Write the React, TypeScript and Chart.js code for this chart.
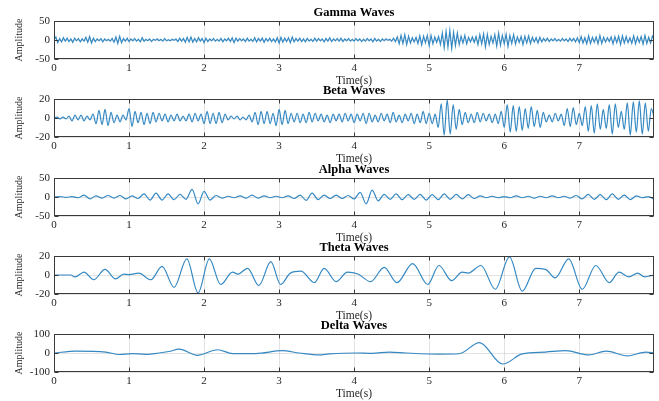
import React, { useEffect, useRef } from 'react';
import { Chart, registerables } from 'chart.js';

Chart.register(...registerables);

// ---------- data ----------
const X_MAX = 7.996;
const X_TICKS = [0, 1, 2, 3, 4, 5, 6, 7];

const TITLES = ['Gamma Waves', 'Beta Waves', 'Alpha Waves', 'Theta Waves', 'Delta Waves'];
const GAMMA_Y_TICKS = [-50, 0, 50];
const BETA_Y_TICKS = [-20, 0, 20];
const ALPHA_Y_TICKS = [-50, 0, 50];
const THETA_Y_TICKS = [-20, 0, 20];
const DELTA_Y_TICKS = [-100, 0, 100];

// Gamma: sampled every 0.025 s
const GAMMA_STEP = 0.025;
const gammaValues = [
  0, 8, -7, 4, -5, 6, -3, 5, -4, 3, -6, 5, -2, 4, -5, 3, -3, 7, -6, 9, -8, 5, -4, 3, -2, 4, -5, 3, -2, 2, -3, 4, -6, 8, -9, 10, -7, 4, -3, 5,
  -4, 3, -2, 4, -3, 2, -5, 6, -3, 2, -2, 3, -4, 2, -1, 3, -2, 2, -3, 4, -2, 1, -2, 2, -1, 3, -4, 5, -3, 4, -6, 7, -5, 8, -6, 4, -5, 6, -3, 4,
  -7, 5, -4, 3, -2, 4, -3, 2, -3, 4, -5, 3, -2, 5, -4, 6, -7, 5, -3, 4, -2, 3, -4, 5, -3, 2, -4, 6, -5, 4, -3, 5, -6, 4, -3, 5, -4, 3, -5, 6,
  -8, 7, -6, 5, -4, 6, -7, 8, -5, 4, -3, 5, -4, 3, -5, 4, -3, 2, -4, 5, -3, 4, -2, 3, -5, 4, -3, 6, -4, 3, -2, 4, -3, 5, -4, 3, -2, 4, -3, 2,
  -3, 4, -2, 3, -4, 2, -3, 4, -2, 3, -5, 4, -3, 2, -4, 3, -2, 3, -1, 2, -3, 5, -4, 8, -10, 12, -9, 14, -12, 10, -8, 6, -5, 7, -9, 11, -13, 10, -7, 12,
  -15, 12, -10, 8, -6, 9, -12, 18, -20, 22, -18, 25, -22, 20, -15, 18, -12, 10, -8, 12, -10, 7, -5, 8, -6, 9, -12, 14, -10, 16, -18, 15, -12, 10, -8, 14, -16, 18, -14, 12,
  -10, 15, -17, 12, -9, 14, -11, 8, -6, 9, -12, 10, -8, 11, -9, 7, -5, 6, -8, 7, -5, 4, -3, 5, -4, 3, -2, 4, -3, 2, -3, 4, -2, 3, -4, 5, -3, 4, -5, 6,
  -7, 9, -8, 6, -10, 11, -9, 7, -6, 8, -10, 12, -9, 7, -5, 6, -4, 8, -10, 9, -7, 10, -12, 11, -8, 9, -7, 6, -9, 11, -10, 8, -6, 9, -11, 12, -9, 7, -8, 10, 0,
];

// Beta: peaks / troughs every 0.04 s
const BETA_STEP = 0.04;
const betaValues = [
  0, 1, -1, 1, -1, 2, -3, 3, -2, 3, -3, 2, -2, 4, -6, 8, -7, 9, -8, 6, -5, 3, -4, 3, -2,
  10, -9, 7, -5, 6, -7, 5, -6, 6, -4, 5, -3, 4, -4, 3, -3, 4, -3, 2, -3, 4, -4, 5, -3, 4,
  -6, 7, -6, 5, -6, 6, -5, 4, -2, 2, -1, 2, -2, 1, -2, 3, -4, 6, -7, 7, -6, 7, -6, 5, -8,
  9, -7, 8, -6, 5, -4, 5, -5, 4, -5, 6, -4, 5, -3, 4, -4, 3, -5, 4, -3, 4, -4, 5, -3, 4,
  -5, 4, -3, 5, -6, 5, -4, 3, -4, 5, -3, 4, -5, 6, -4, 3, -5, 4, -3, 5, -6, 4, -5, 7, -6,
  5, -6, 4, -10, 15, -18, 19, -17, 14, -12, 9, -7, 6, -5, 4, -5, 6, -4, 5, -3, 4, -5, 4, -6, 7,
  -10, 14, -15, 13, -14, 12, -13, 10, -11, 12, -9, 8, -10, 6, -4, 3, -4, 5, -3, 4, -8, 10, -9, 11, -7,
  5, -8, 12, -14, 13, -16, 15, -12, 9, -11, 14, -17, 15, -10, 7, -12, 16, -18, 17, -15, 18, -17, 16, -14, 10, 0,
];

// Alpha: peaks / troughs every 0.08 s
const ALPHA_STEP = 0.08;
const alphaValues = [
  0, 1, -1, 1, -2, 5, -5, 3, -3, 4, -3, 4, -5, 3, -4, 8, -8, 10, -8, 8, -7, 7, -6, 20, -18,
  15, -8, 4, -3, 2, -2, 3, -3, 5, -3, 3, -2, 2, -2, 3, -4, 5, -9, 10, -7, 5, -4, 5, -4, 4,
  -5, 12, -18, 18, -10, 7, -6, 8, -7, 6, -6, 7, -8, 6, -7, 8, -6, 7, -5, 6, -4, 3, -2, 2, -2,
  1, -2, 3, -2, 2, -3, 2, -2, 3, -2, 2, -3, 4, -5, 7, -6, 6, -7, 8, -6, 5, -7, 3, -2, 1, -6,
];

// Theta: time (s) and amplitude of turning points
const thetaTimes = [
  0, 0.22, 0.28, 0.4, 0.53, 0.68, 0.82, 0.93, 1.0, 1.13, 1.29, 1.44, 1.6, 1.77, 1.92, 2.07, 2.22, 2.38, 2.45, 2.58,
  2.73, 2.89, 3.02, 3.15, 3.29, 3.47, 3.6, 3.76, 3.91, 4.05, 4.22, 4.4, 4.57, 4.78, 4.98, 5.13, 5.3, 5.44, 5.52, 5.69,
  5.88, 6.07, 6.24, 6.42, 6.55, 6.68, 6.86, 7.04, 7.22, 7.4, 7.53, 7.66, 7.78, 7.87, 8.0,
];
const thetaValues = [
  0, 0, -2, 3, -5, 6, -4, 1, 0.5, 2, -5, 9, -13, 17, -19, 17, -10, 3, 1, 7,
  -11, 14, -10, 2, 4, -8, 7, -7, 3, 1, -7, 8, -8, 12, -10, 10, -6, 3, 2, 10,
  -15, 19, -17, 7, 6, -3, 17, -15, 10, -8, 3, -2, 2, -2, 0,
];

// Delta: time (s) and amplitude of turning points
const deltaTimes = [
  0, 0.29, 0.69, 0.87, 1.04, 1.22, 1.4, 1.53, 1.67, 1.91, 2.18, 2.38, 2.69, 3.04, 3.27, 3.53, 3.67,
  4.02, 4.24, 4.47, 4.69, 5.13, 5.4, 5.67, 5.98, 6.24, 6.55, 6.82, 7.13, 7.36, 7.64, 7.89, 8.0,
];
const deltaValues = [
  0, 10, 5, -8, -3, -7, 0, 8, 20, -12, 17, -3, -3, 12, 0, -10, -5,
  0, -2, 5, 0, -6, -4, 55, -58, -5, 5, 12, -10, 10, -15, 5, 0,
];

// ---------- style ----------
const FONT = "'Liberation Serif', 'Times New Roman', serif";
const LINE_COLOR = '#3589c3';
const GRID_COLOR = 'rgba(0,0,0,0.11)';
const AXIS_COLOR = '#3a3a3a';
const TEXT_COLOR = '#262626';

const CANVAS_W = 659;
const CANVAS_H = 88;

const sampled = (values: number[], step: number) => values.map((v, i) => ({ x: i * step, y: v }));
const paired = (ts: number[], vs: number[]) => ts.map((t, i) => ({ x: t, y: vs[i] }));

const PANELS = [
  { top: 0, title: TITLES[0], points: sampled(gammaValues, GAMMA_STEP), yTicks: GAMMA_Y_TICKS, smooth: false },
  { top: 78, title: TITLES[1], points: sampled(betaValues, BETA_STEP), yTicks: BETA_Y_TICKS, smooth: true },
  { top: 157, title: TITLES[2], points: sampled(alphaValues, ALPHA_STEP), yTicks: ALPHA_Y_TICKS, smooth: true },
  { top: 235, title: TITLES[3], points: paired(thetaTimes, thetaValues), yTicks: THETA_Y_TICKS, smooth: true },
  { top: 313, title: TITLES[4], points: paired(deltaTimes, deltaValues), yTicks: DELTA_Y_TICKS, smooth: true },
];

const boxPlugin = {
  id: 'axesBox',
  afterDatasetsDraw(chart: any) {
    const { ctx, chartArea: a, scales } = chart;
    const l = Math.round(a.left) + 0.5;
    const r = Math.round(a.right) - 0.5;
    const t = Math.round(a.top) + 0.5;
    const b = Math.round(a.bottom) - 0.5;
    ctx.save();
    ctx.strokeStyle = AXIS_COLOR;
    ctx.lineWidth = 1;
    ctx.strokeRect(l, t, r - l, b - t);
    ctx.beginPath();
    for (const tk of scales.x.ticks) {
      const x = Math.round(scales.x.getPixelForValue(tk.value)) + 0.5;
      ctx.moveTo(x, t);
      ctx.lineTo(x, t + 4);
      ctx.moveTo(x, b);
      ctx.lineTo(x, b - 4);
    }
    for (const tk of scales.y.ticks) {
      const y = Math.round(scales.y.getPixelForValue(tk.value)) + 0.5;
      ctx.moveTo(l, y);
      ctx.lineTo(l + 4, y);
      ctx.moveTo(r, y);
      ctx.lineTo(r - 4, y);
    }
    ctx.stroke();
    ctx.restore();
  },
};

function Panel({ top, title, points, yTicks, smooth }: any) {
  const ref = useRef<HTMLCanvasElement | null>(null);
  useEffect(() => {
    if (!ref.current) return;
    const chart = new Chart(ref.current, {
      type: 'line',
      data: {
        datasets: [
          {
            data: points,
            borderColor: LINE_COLOR,
            borderWidth: 1.2,
            pointRadius: 0,
            fill: false,
            tension: 0,
            cubicInterpolationMode: smooth ? 'monotone' : 'default',
          } as any,
        ],
      },
      options: {
        animation: false,
        responsive: false,
        events: [],
        layout: { padding: { left: 0, right: 5, top: 0, bottom: 0 } },
        plugins: {
          legend: { display: false },
          tooltip: { enabled: false },
          title: {
            display: true,
            text: title,
            color: '#000',
            fullSize: false,
            font: { family: FONT, size: 12.5, weight: 'bold' },
            padding: { top: 5, bottom: 1 },
          } as any,
        },
        scales: {
          x: {
            type: 'linear',
            min: 0,
            max: X_MAX,
            afterBuildTicks: (s: any) => {
              s.ticks = X_TICKS.map((v) => ({ value: v }));
            },
            afterFit: (s: any) => {
              s.height = 29;
            },
            grid: { color: GRID_COLOR, drawTicks: false },
            border: { display: false },
            ticks: {
              autoSkip: false,
              maxRotation: 0,
              padding: 3,
              color: TEXT_COLOR,
              font: { family: FONT, size: 11 },
            },
            title: {
              display: true,
              text: 'Time(s)',
              color: TEXT_COLOR,
              font: { family: FONT, size: 11.5 },
              padding: 0,
            },
          },
          y: {
            type: 'linear',
            min: yTicks[0],
            max: yTicks[yTicks.length - 1],
            afterBuildTicks: (s: any) => {
              s.ticks = yTicks.map((v: number) => ({ value: v }));
            },
            afterFit: (s: any) => {
              s.width = 54;
            },
            grid: { color: GRID_COLOR, drawTicks: false },
            border: { display: false },
            ticks: {
              autoSkip: false,
              padding: 4,
              color: TEXT_COLOR,
              font: { family: FONT, size: 11 },
            },
            title: {
              display: true,
              text: 'Amplitude',
              color: TEXT_COLOR,
              font: { family: FONT, size: 10 },
              padding: { top: 13, bottom: 0 },
            },
          },
        },
      } as any,
      plugins: [boxPlugin],
    });
    return () => chart.destroy();
  }, []);
  return (
    <canvas
      ref={ref}
      width={CANVAS_W}
      height={CANVAS_H}
      style={{ position: 'absolute', left: 0, top, width: CANVAS_W, height: CANVAS_H }}
    />
  );
}

export default function App() {
  return (
    <div style={{ position: 'fixed', left: 0, top: 0, width: 659, height: 401, background: '#fff', overflow: 'hidden' }}>
      {PANELS.map((p, i) => (
        <Panel key={i} {...p} />
      ))}
    </div>
  );
}
